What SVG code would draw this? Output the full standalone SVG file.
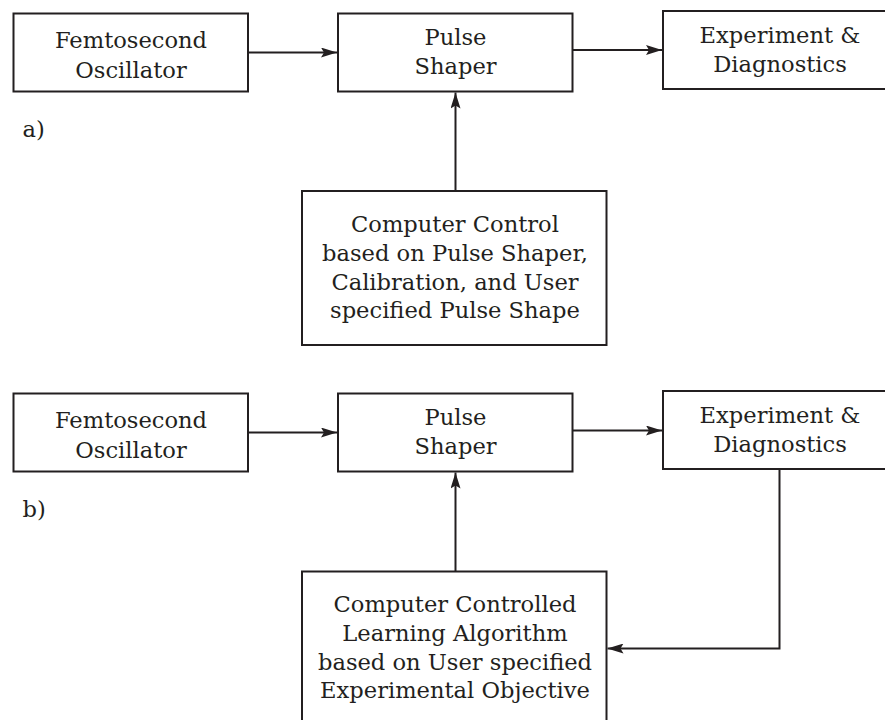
<svg xmlns="http://www.w3.org/2000/svg" width="885" height="720" viewBox="0 0 885 720">
<style>
.box{fill:#fff;stroke:#231f20;stroke-width:2}
.t{font-family:"DejaVu Serif",serif;font-size:22.6px;fill:#231f20;text-anchor:middle}
.lbl{font-family:"DejaVu Serif",serif;font-size:22.6px;fill:#231f20}
.c{fill:none;stroke:#231f20;stroke-width:2}
</style>
<defs>
<marker id="ah" viewBox="0 0 16 10" refX="16" refY="5" markerWidth="16" markerHeight="10" markerUnits="userSpaceOnUse" orient="auto">
<path d="M0,0 L16,5 L0,10 L3,5 Z" fill="#231f20"/>
</marker>
</defs>
<rect width="885" height="720" fill="#fff"/>

<g id="connectors">
<line class="c" x1="248" y1="52.5" x2="337" y2="52.5" marker-end="url(#ah)"/>
<line class="c" x1="573" y1="50" x2="662" y2="50" marker-end="url(#ah)"/>
<line class="c" x1="455.5" y1="191" x2="455.5" y2="92.5" marker-end="url(#ah)"/>
<line class="c" x1="248" y1="432.5" x2="337" y2="432.5" marker-end="url(#ah)"/>
<line class="c" x1="573" y1="430.5" x2="662" y2="430.5" marker-end="url(#ah)"/>
<line class="c" x1="455.5" y1="571.5" x2="455.5" y2="472.5" marker-end="url(#ah)"/>
<polyline class="c" points="779.5,469.5 779.5,648.5 607.5,648.5" marker-end="url(#ah)"/>
</g>

<g id="a-oscillator">
<rect class="box" x="13.5" y="13.5" width="234.5" height="78"/>
<text class="t" x="131" y="48">Femtosecond</text>
<text class="t" x="131" y="77.5">Oscillator</text>
</g>
<g id="a-shaper">
<rect class="box" x="338" y="13.5" width="234.5" height="78"/>
<text class="t" x="455.5" y="45">Pulse</text>
<text class="t" x="455.5" y="74">Shaper</text>
</g>
<g id="a-experiment">
<rect class="box" x="663" y="11" width="240" height="78"/>
<text class="t" x="780" y="42.5">Experiment &amp;</text>
<text class="t" x="780" y="71.5">Diagnostics</text>
</g>
<g id="a-computer">
<rect class="box" x="302" y="191" width="304.5" height="154"/>
<text class="t" x="455" y="231.5">Computer Control</text>
<text class="t" x="455" y="260.5">based on Pulse Shaper,</text>
<text class="t" x="455" y="289.5">Calibration, and User</text>
<text class="t" x="455" y="318">specified Pulse Shape</text>
</g>
<text class="lbl" x="22.5" y="136.5">a)</text>

<g id="b-oscillator">
<rect class="box" x="13.5" y="393.5" width="234.5" height="78"/>
<text class="t" x="131" y="428">Femtosecond</text>
<text class="t" x="131" y="457.5">Oscillator</text>
</g>
<g id="b-shaper">
<rect class="box" x="338" y="393.5" width="234.5" height="78"/>
<text class="t" x="455.5" y="425">Pulse</text>
<text class="t" x="455.5" y="454">Shaper</text>
</g>
<g id="b-experiment">
<rect class="box" x="663" y="391" width="240" height="78"/>
<text class="t" x="780" y="422.5">Experiment &amp;</text>
<text class="t" x="780" y="451.5">Diagnostics</text>
</g>
<g id="b-computer">
<rect class="box" x="302" y="571.5" width="304.5" height="160"/>
<text class="t" x="455" y="611.5">Computer Controlled</text>
<text class="t" x="455" y="640.5">Learning Algorithm</text>
<text class="t" x="455" y="669.5">based on User specified</text>
<text class="t" x="455" y="698">Experimental Objective</text>
</g>
<text class="lbl" x="22.5" y="516.5">b)</text>
</svg>
